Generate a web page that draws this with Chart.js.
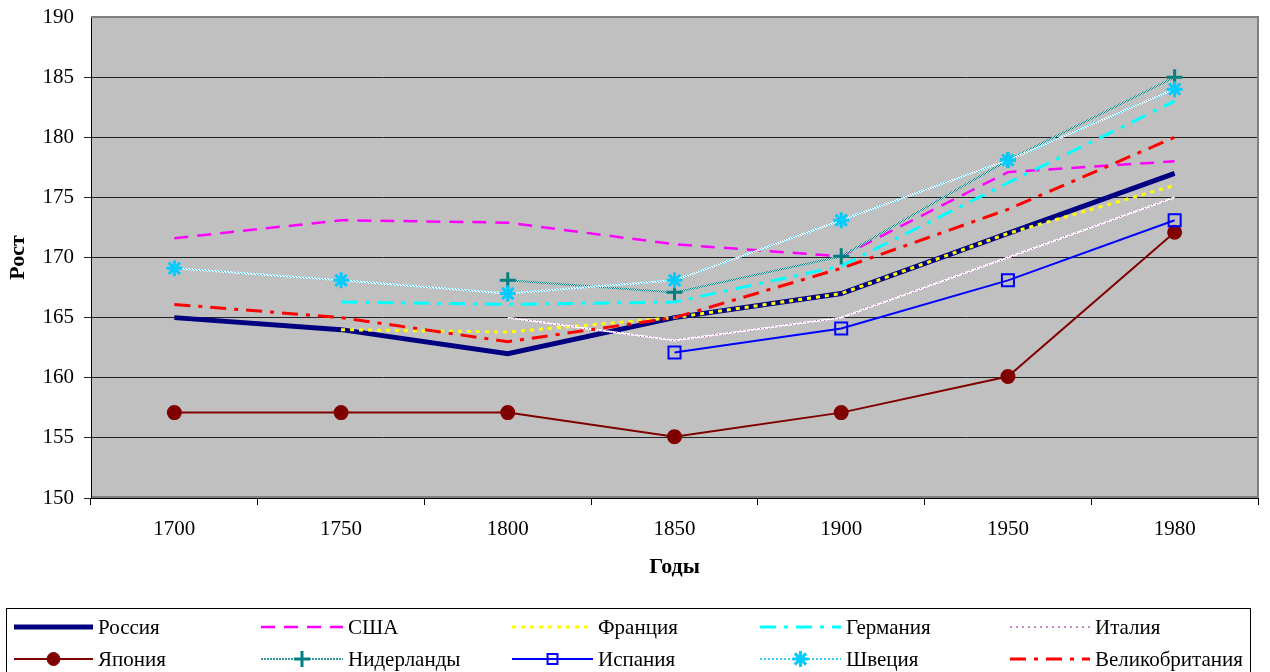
<!DOCTYPE html>
<html>
<head>
<meta charset="utf-8">
<script src="https://cdn.jsdelivr.net/npm/chart.js@4"></script>
<style>
  html, body { margin: 0; padding: 0; background: #fff; }
  #wrap { width: 1270px; height: 672px; }
</style>
</head>
<body>
<div id="wrap"><canvas id="c" width="1270" height="672"></canvas></div>
<script>
const years = ['1700', '1750', '1800', '1850', '1900', '1950', '1980'];
const russia      = [165, 164, 162, 165, 167, 172, 177];
const usa         = [171.6, 173.1, 172.9, 171.1, 170.1, 177.1, 178];
const france      = [null, 164, 163.8, 165, 167, 172, 176];
const germany     = [null, 166.3, 166.1, 166.3, 169.3, 176.2, 183];
const italy       = [null, null, 165, 163.1, 165, 170, 175];
const japan       = [157.1, 157.1, 157.1, 155.1, 157.1, 160.1, 172.1];
const netherlands = [null, null, 168.1, 167.1, 170.1, 178.1, 185];
const spain       = [null, null, null, 162.1, 164.1, 168.1, 173.1];
const sweden      = [169.1, 168.1, 167, 168.1, 173.1, 178.1, 184];
const uk          = [166.1, 165, 163, 165, 169.1, 174, 180];
const yTicks = { min: 150, max: 190, step: 5 };

const FONT = "'Liberation Serif', 'Times New Roman', serif";
const TICK_SIZE = 21;
const TITLE_SIZE = 22;

function makePattern(bg, fg, size, cells) {
  const c = document.createElement('canvas');
  c.width = size; c.height = size;
  const g = c.getContext('2d');
  g.fillStyle = bg; g.fillRect(0, 0, size, size);
  g.fillStyle = fg;
  cells.forEach(([x, y]) => g.fillRect(x, y, 1, 1));
  return g.createPattern(c, 'repeat');
}
const ctx = document.getElementById('c').getContext('2d');
const italyPat = makePattern('#ffffff', '#b060b0', 4, [[0, 0], [2, 2]]);
const nethPat  = makePattern('#c8e4e4', '#008080', 2, [[0, 0], [1, 1]]);
const swedPat  = makePattern('#ffffff', '#33ccff', 3, [[0, 0], [1, 1], [2, 2]]);

const base = { fill: false, tension: 0, pointRadius: 0, spanGaps: false };
const datasets = [
  { label: 'Россия', data: russia, borderColor: '#000080', borderWidth: 5 },
  { label: 'США', data: usa, borderColor: '#ff00ff', borderWidth: 2.5, borderDash: [14, 9] },
  { label: 'Франция', data: france, borderColor: '#ffff00', borderWidth: 3, borderDash: [4, 5] },
  { label: 'Германия', data: germany, borderColor: '#00ffff', borderWidth: 3, borderDash: [16, 8, 4, 8] },
  { label: 'Италия', data: italy, borderColor: italyPat, legendColor: '#cc88cc', legendDash: [2, 4], borderWidth: 2 },
  { label: 'Япония', data: japan, borderColor: '#800000', borderWidth: 2,
    pointStyle: 'circle', pointRadius: 6.5, pointBackgroundColor: '#800000', pointBorderColor: '#800000' },
  { label: 'Нидерланды', data: netherlands, borderColor: nethPat, legendColor: '#3a9a9a', legendDash: [2, 1], borderWidth: 2,
    pointStyle: 'cross', pointRadius: 8, pointBorderWidth: 3, pointBorderColor: '#008080', pointBackgroundColor: '#008080' },
  { label: 'Испания', data: spain, borderColor: '#0000ff', borderWidth: 2,
    pointStyle: 'rect', pointRadius: 8.5, pointBorderWidth: 2, pointBorderColor: '#0000ff', pointBackgroundColor: 'rgba(0,0,0,0)' },
  { label: 'Швеция', data: sweden, borderColor: swedPat, legendColor: '#33ccff', legendDash: [2, 2], borderWidth: 2,
    pointStyle: 'star', pointRadius: 8, pointBorderWidth: 3, pointBorderColor: '#00ccff', pointBackgroundColor: '#00ccff' },
  { label: 'Великобритания', data: uk, borderColor: '#ff0000', borderWidth: 3, borderDash: [16, 8, 4, 8] }
].map((d, i) => Object.assign({}, base, d, { order: 20 - i }));

const bgPlugin = {
  id: 'bgPlugin',
  beforeDraw(chart) {
    const { ctx, chartArea: a } = chart;
    ctx.save();
    ctx.fillStyle = '#c0c0c0';
    ctx.fillRect(a.left, a.top, a.right - a.left, a.bottom - a.top);
    ctx.restore();
  },
  beforeDatasetsDraw(chart) {
    const { ctx, chartArea: a } = chart;
    ctx.save();
    ctx.strokeStyle = '#808080';
    ctx.lineWidth = 2;
    ctx.beginPath();
    ctx.moveTo(a.left, a.top);
    ctx.lineTo(a.right, a.top);
    ctx.lineTo(a.right, a.bottom - 1);
    ctx.lineTo(a.left + 1, a.bottom - 1);
    ctx.stroke();
    ctx.restore();
  }
};

const legendPlugin = {
  id: 'customLegend',
  afterDraw(chart) {
    const { ctx } = chart;
    const colX = [14, 261, 512, 760, 1010];
    const textX = [98, 348, 598, 846, 1095];
    const rowY = [627, 659];
    ctx.save();
    ctx.strokeStyle = '#000';
    ctx.lineWidth = 1;
    ctx.strokeRect(6.5, 608.5, 1244, 80);
    chart.data.datasets.forEach((ds, i) => {
      const col = i % 5, row = Math.floor(i / 5);
      const x0 = colX[col], x1 = textX[col] - 5, y = rowY[row];
      ctx.save();
      ctx.strokeStyle = ds.legendColor || ds.borderColor;
      ctx.lineWidth = ds.borderWidth;
      ctx.setLineDash(ds.legendDash || ds.borderDash || []);
      ctx.beginPath();
      ctx.moveTo(x0, y);
      ctx.lineTo(x1, y);
      ctx.stroke();
      ctx.restore();
      if (ds.pointRadius > 0) {
        ctx.save();
        ctx.fillStyle = ds.pointBackgroundColor;
        ctx.strokeStyle = ds.pointBorderColor;
        ctx.lineWidth = ds.pointBorderWidth || 1;
        Chart.helpers.drawPoint(ctx, {
          pointStyle: ds.pointStyle, radius: ds.pointStyle === 'rect' ? 7 : ds.pointRadius,
          borderWidth: ds.pointBorderWidth || 1, rotation: 0
        }, (x0 + x1) / 2, y);
        ctx.restore();
      }
      ctx.fillStyle = '#000';
      ctx.font = TICK_SIZE + 'px ' + FONT;
      ctx.textBaseline = 'middle';
      ctx.textAlign = 'left';
      ctx.fillText(ds.label, textX[col], y + 1);
    });
    ctx.restore();
  }
};

new Chart(ctx, {
  type: 'line',
  data: { labels: years, datasets },
  plugins: [bgPlugin, legendPlugin],
  options: {
    responsive: false,
    animation: false,
    layout: { padding: { left: 0, top: 17, right: 12, bottom: 74 } },
    plugins: { legend: { display: false }, tooltip: { enabled: false } },
    elements: { line: { borderCapStyle: 'butt', borderJoinStyle: 'miter' } },
    scales: {
      x: {
        type: 'category',
        offset: true,
        afterFit(s) { s.height = 100; s.paddingLeft = 0; s.paddingRight = 0; },
        grid: { offset: true, drawOnChartArea: false, drawTicks: true, tickLength: 7, color: '#000', lineWidth: 1 },
        border: { display: true, color: '#000', width: 1 },
        ticks: { color: '#000', font: { family: FONT, size: TICK_SIZE }, padding: 12, maxRotation: 0 },
        title: { display: true, text: 'Годы', color: '#000', font: { family: FONT, size: TITLE_SIZE, weight: 'bold' }, padding: { top: 0, bottom: 17 } }
      },
      y: {
        min: yTicks.min, max: yTicks.max,
        afterFit(s) { s.width = 91; s.paddingTop = 0; s.paddingBottom = 0; },
        ticks: { stepSize: yTicks.step, color: '#000', font: { family: FONT, size: TICK_SIZE }, padding: 10 },
        grid: {
          drawTicks: true, tickLength: 7, lineWidth: 1,
          color: (c) => (c.tick && c.tick.value === yTicks.max ? 'rgba(0,0,0,0)' : '#222')
        },
        border: { display: true, color: '#000', width: 1 },
        title: { display: true, text: 'Рост', color: '#000', font: { family: FONT, size: TITLE_SIZE, weight: 'bold' }, padding: { top: 5, bottom: 0 } }
      }
    }
  }
});
</script>
</body>
</html>
